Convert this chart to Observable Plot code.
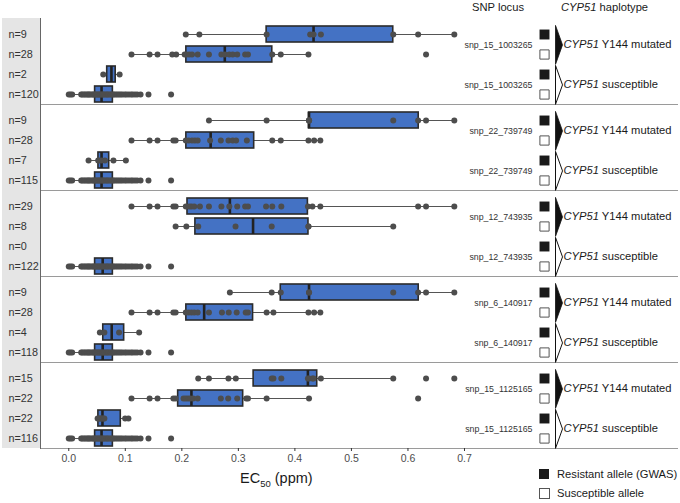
<!DOCTYPE html>
<html><head><meta charset="utf-8">
<script src="https://cdn.jsdelivr.net/npm/d3@7"></script>
<script src="https://cdn.jsdelivr.net/npm/@observablehq/plot@0.6"></script>
<style>
body{margin:0;background:#fff;font-family:"Liberation Sans",Arial,Helvetica,sans-serif;}
#wrap{position:relative;width:680px;height:503px;overflow:hidden;background:#fff;}
.abs{position:absolute;white-space:nowrap;color:#1a1a1a;font-size:11.2px;line-height:1;}
</style></head><body><div id="wrap">
<div style="position:absolute;left:2px;top:18px;width:38px;height:430px;background:#e5e5e5"></div>
<div id="chart" style="position:absolute;left:0;top:0"></div>
<div class="abs" style="left:472px;top:1.5px">SNP locus</div>
<div class="abs" style="left:561px;top:1.5px"><i>CYP51</i> haplotype</div>
<div class="abs" style="left:240px;top:471px;font-size:14.5px">EC<sub style="font-size:9.5px">50</sub> (ppm)</div>
<div style="position:absolute;left:539px;top:469px;width:10px;height:10px;background:#1a1a1a"></div>
<div class="abs" style="left:557px;top:468.5px">Resistant allele (GWAS)</div>
<div style="position:absolute;left:539px;top:488px;width:9px;height:9px;border:1px solid #555;background:#fff"></div>
<div class="abs" style="left:557px;top:488px">Susceptible allele</div>
</div>
<script>
// ---- data ----
const snps = ["snp_15_1003265", "snp_22_739749", "snp_12_743935", "snp_6_140917", "snp_15_1125165"];
const rowKeys = ["mutRes", "mutSus", "susRes", "susSus"];
const haplotypes = ["CYP51 Y144 mutated", "CYP51 susceptible"];
const xTicks = [0, 0.1, 0.2, 0.3, 0.4, 0.5, 0.6, 0.7];

// n per row (panel order = snps, row order = rowKeys)
const nCounts = [9, 28, 2, 120, 9, 28, 7, 115, 29, 8, 0, 122, 9, 28, 4, 118, 15, 22, 22, 116];
// box statistics per row
const whiskerLo = [0.207, 0.111, 0.061, 0.0, 0.248, 0.111, 0.035, 0.0, 0.111, 0.189, null, 0.0, 0.285, 0.111, 0.055, 0.0, 0.229, 0.111, 0.051, 0.0];
const q1 =        [0.350, 0.208, 0.068, 0.0466, 0.425, 0.208, 0.0525, 0.0466, 0.210, 0.224, null, 0.0466, 0.375, 0.208, 0.061, 0.0466, 0.327, 0.1935, 0.0524, 0.0466];
const median =    [0.433, 0.276, 0.0755, 0.058, 0.425, 0.251, 0.058, 0.058, 0.285, 0.326, null, 0.060, 0.425, 0.2395, 0.076, 0.060, 0.423, 0.217, 0.0596, 0.058];
const q3 =        [0.574, 0.360, 0.083, 0.078, 0.619, 0.328, 0.0715, 0.078, 0.423, 0.424, null, 0.078, 0.619, 0.326, 0.098, 0.078, 0.4395, 0.3085, 0.092, 0.078];
const whiskerHi = [0.682, 0.424, 0.090, 0.127, 0.682, 0.445, 0.101, 0.127, 0.682, 0.574, null, 0.127, 0.682, 0.445, 0.1245, 0.127, 0.574, 0.425, 0.106, 0.127];

// individual isolate values (visible points)
const suscSuscPts = [0.0, 0.003, 0.006, 0.022, 0.024, 0.027, 0.029, 0.032, 0.034, 0.036, 0.038, 0.041, 0.043, 0.045, 0.047, 0.049, 0.051, 0.053, 0.055, 0.057, 0.059, 0.061, 0.063, 0.066, 0.068, 0.07, 0.073, 0.075, 0.078, 0.08, 0.083, 0.086, 0.089, 0.092, 0.095, 0.099, 0.102, 0.106, 0.11, 0.113, 0.117, 0.121, 0.127, 0.141, 0.181];
const pointsByRow = [
  [0.207, 0.231, 0.350, 0.427, 0.433, 0.446, 0.574, 0.618, 0.682],
  [0.111, 0.143, 0.157, 0.183, 0.19, 0.205, 0.208, 0.213, 0.218, 0.228, 0.248, 0.27, 0.276, 0.284, 0.29, 0.298, 0.312, 0.317, 0.36, 0.375, 0.424, 0.632],
  [0.061, 0.090],
  suscSuscPts,
  [0.248, 0.350, 0.425, 0.425, 0.425, 0.574, 0.618, 0.632, 0.682],
  [0.111, 0.143, 0.157, 0.185, 0.189, 0.207, 0.212, 0.218, 0.223, 0.228, 0.25, 0.269, 0.2825, 0.29, 0.296, 0.315, 0.36, 0.375, 0.424, 0.434, 0.445],
  [0.035, 0.052, 0.053, 0.058, 0.064, 0.079, 0.101],
  suscSuscPts,
  [0.111, 0.143, 0.157, 0.185, 0.189, 0.207, 0.213, 0.217, 0.222, 0.232, 0.248, 0.27, 0.284, 0.298, 0.312, 0.317, 0.349, 0.36, 0.376, 0.423, 0.431, 0.445, 0.618, 0.632, 0.682],
  [0.189, 0.208, 0.229, 0.295, 0.359, 0.424, 0.424, 0.574],
  [],
  suscSuscPts,
  [0.285, 0.359, 0.375, 0.425, 0.425, 0.574, 0.618, 0.632, 0.682],
  [0.111, 0.143, 0.157, 0.185, 0.189, 0.207, 0.212, 0.217, 0.222, 0.228, 0.248, 0.271, 0.283, 0.297, 0.313, 0.317, 0.35, 0.362, 0.424, 0.434, 0.445],
  [0.055, 0.063, 0.089, 0.1245],
  suscSuscPts,
  [0.229, 0.248, 0.2825, 0.2955, 0.359, 0.362, 0.376, 0.423, 0.425, 0.431, 0.433, 0.446, 0.574, 0.632, 0.682],
  [0.111, 0.143, 0.157, 0.185, 0.189, 0.203, 0.207, 0.211, 0.215, 0.22, 0.228, 0.269, 0.282, 0.298, 0.314, 0.317, 0.35, 0.425, 0.618],
  [0.051, 0.053, 0.055, 0.057, 0.059, 0.061, 0.063, 0.0997, 0.1056],
  suscSuscPts
];

// ---- build tables ----
const rows = [];
const pts = [];
snps.forEach((snp, p) => rowKeys.forEach((key, r) => {
  const i = p * 4 + r;
  rows.push({snp, row: key, n: nCounts[i], lo: whiskerLo[i], q1: q1[i], med: median[i], q3: q3[i], hi: whiskerHi[i], res: r % 2 === 0});
  pointsByRow[i].forEach(v => pts.push({snp, row: key, v}));
}));
const groups = [];
snps.forEach(snp => haplotypes.forEach((h, g) => groups.push({snp, row: rowKeys[g * 2], hap: h, mut: g === 0})));
const boxes = rows.filter(d => d.n > 0);

const tri = {draw(ctx) { ctx.moveTo(0, -19.5); ctx.lineTo(7, 0); ctx.lineTo(0, 19.5); ctx.closePath(); }};
const half = 10.4;

const chart = Plot.plot({
  width: 680, height: 470,
  marginTop: 18, marginBottom: 22, marginLeft: 40, marginRight: 3,
  style: {background: "none", fontFamily: "Liberation Sans, Arial, Helvetica, sans-serif", color: "#333"},
  x: {domain: [-0.05, 1.0768], axis: null},
  fy: {domain: snps, padding: 0, axis: null},
  y: {domain: rowKeys, paddingInner: 0.19, paddingOuter: 0.1625, align: 0.83, axis: null},
  marks: [
    Plot.frame({anchor: "bottom", stroke: "#9a9a9a"}),
    Plot.frame({anchor: "left", stroke: "#666"}),
    Plot.axisX({ticks: xTicks, tickFormat: d3.format(".1f"), tickSize: 3, tickPadding: 3, fontSize: 10.5, stroke: "#333", color: "#4d4d4d", label: null}),
    Plot.ruleY(boxes, {fy: "snp", y: "row", x1: "lo", x2: "hi", stroke: "#555", strokeWidth: 1}),
    Plot.barX(boxes, {fy: "snp", y: "row", x1: "q1", x2: "q3", fill: "#4472c4", stroke: "#2b2b2b", strokeWidth: 1.6}),
    Plot.tickX(boxes, {fy: "snp", y: "row", x: "med", stroke: "#222", strokeWidth: 2.6}),
    Plot.dot(pts, {fy: "snp", y: "row", x: "v", r: 3, fill: "#4d4d4d"}),
    Plot.text(rows, {fy: "snp", y: "row", text: d => "n=" + d.n, frameAnchor: "left", dx: -32, textAnchor: "start", fontSize: 10.8, fill: "#333"}),
    Plot.text(groups, {fy: "snp", y: "row", dy: half, text: "snp", frameAnchor: "right", dx: -145, textAnchor: "end", fontSize: 8.8, fill: "#333"}),
    Plot.dot(rows.filter(d => d.res), {fy: "snp", y: "row", frameAnchor: "right", dx: -133, symbol: "square", r: 5.6, fill: "#1a1a1a"}),
    Plot.dot(rows.filter(d => !d.res), {fy: "snp", y: "row", frameAnchor: "right", dx: -133, symbol: "square", r: 5.2, fill: "white", stroke: "#555", strokeWidth: 1}),
    Plot.dot(groups.filter(d => d.mut), {fy: "snp", y: "row", dy: half, frameAnchor: "right", dx: -122, symbol: tri, r: 5, fill: "#111", stroke: "#111", strokeWidth: 0.8}),
    Plot.dot(groups.filter(d => !d.mut), {fy: "snp", y: "row", dy: half, frameAnchor: "right", dx: -122, symbol: tri, r: 5, fill: "white", stroke: "#111", strokeWidth: 1}),
    Plot.text(groups, {fy: "snp", y: "row", dy: half, text: "hap", frameAnchor: "right", dx: -114, textAnchor: "start", fontSize: 11.2, fill: "#1a1a1a"})
  ]
});
document.getElementById("chart").appendChild(chart);
// italicise gene name inside the haplotype labels
chart.querySelectorAll("text").forEach(el => {
  const t = el.textContent;
  if (t.startsWith("CYP51 ") && el.children.length === 0) {
    el.textContent = "";
    const it = document.createElementNS("http://www.w3.org/2000/svg", "tspan");
    it.setAttribute("font-style", "italic");
    it.textContent = "CYP51";
    el.appendChild(it);
    el.appendChild(document.createTextNode(t.slice(5)));
  }
});
</script>
</body></html>
